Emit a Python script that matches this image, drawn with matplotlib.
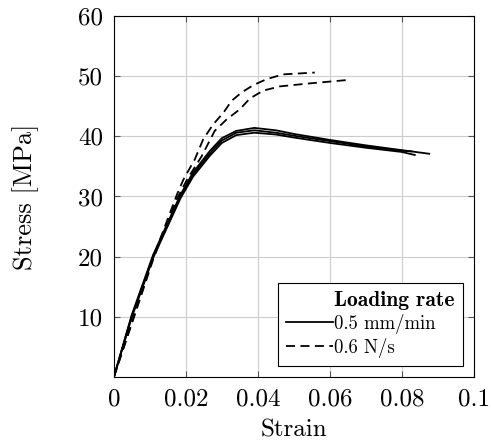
import matplotlib
matplotlib.use('Agg')
import matplotlib.pyplot as plt

plt.rcParams['font.family'] = 'serif'
plt.rcParams['font.serif'] = ['cmr10']
plt.rcParams['mathtext.fontset'] = 'cm'
plt.rcParams['axes.formatter.use_mathtext'] = True

# Solid curves (0.5 mm/min)
s1_strain = [0, 0.0049, 0.0109, 0.0185, 0.022, 0.0267, 0.03, 0.034, 0.039, 0.045, 0.05, 0.06, 0.07, 0.08, 0.0876]
s1_stress = [0, 10.2, 20.3, 30.3, 34.0, 37.6, 39.7, 40.9, 41.4, 41.0, 40.4, 39.4, 38.5, 37.7, 37.1]
s2_strain = [0, 0.0049, 0.0109, 0.0185, 0.022, 0.0267, 0.03, 0.034, 0.039, 0.045, 0.05, 0.06, 0.07, 0.08, 0.0827]
s2_stress = [0, 10.0, 20.0, 30.0, 33.7, 37.2, 39.3, 40.6, 41.0, 40.6, 40.1, 39.2, 38.3, 37.6, 37.5]
s3_strain = [0, 0.0049, 0.0109, 0.0185, 0.022, 0.0267, 0.03, 0.034, 0.039, 0.045, 0.05, 0.06, 0.07, 0.08, 0.0836]
s3_stress = [0, 9.8, 19.8, 29.7, 33.3, 36.8, 38.9, 40.2, 40.6, 40.3, 39.8, 38.9, 38.1, 37.4, 36.9]

# Dashed curves (0.6 N/s)
d1_strain = [0, 0.0055, 0.011, 0.0175, 0.0193, 0.0225, 0.0248, 0.0276, 0.0304, 0.0327, 0.0355, 0.0387, 0.0424, 0.047, 0.0558]
d1_stress = [0, 10.0, 20.0, 30.3, 32.8, 36.2, 39.5, 42.0, 43.9, 45.9, 47.3, 48.5, 49.5, 50.3, 50.6]
d2_strain = [0, 0.0055, 0.011, 0.0175, 0.0205, 0.0244, 0.028, 0.0313, 0.035, 0.0378, 0.0415, 0.0461, 0.0544, 0.0656]
d2_stress = [0, 9.8, 19.7, 29.6, 33.0, 36.7, 40.9, 42.8, 44.5, 46.3, 47.6, 48.3, 48.8, 49.4]

fig = plt.figure(figsize=(4.91, 4.45), dpi=100)
ax = fig.add_axes([0.232, 0.153, 0.733, 0.811])

ax.plot([], [], ' ', label='Loading rate')  # legend title row
ax.plot(s1_strain, s1_stress, 'k-', lw=1.3, label='0.5 mm/min')
ax.plot(s2_strain, s2_stress, 'k-', lw=1.3)
ax.plot(s3_strain, s3_stress, 'k-', lw=1.3)
ax.plot(d1_strain, d1_stress, 'k--', lw=1.3, dashes=(5, 3), label='0.6 N/s')
ax.plot(d2_strain, d2_stress, 'k--', lw=1.3, dashes=(5, 3))

ax.set_xlim(0, 0.1)
ax.set_ylim(0, 60)
ax.set_xticks([0, 0.02, 0.04, 0.06, 0.08, 0.1])
ax.set_xticklabels(['0', '0.02', '0.04', '0.06', '0.08', '0.1'])
ax.set_yticks([10, 20, 30, 40, 50, 60])
ax.set_yticklabels(['10', '20', '30', '40', '50', '60'])
ax.grid(True, color='#cccccc', lw=0.8)
ax.set_axisbelow(True)
ax.tick_params(direction='in', top=True, right=True, labelsize=18, length=4, color='#555555', pad=8)
for sp in ax.spines.values():
    sp.set_linewidth(0.8)

ax.set_xlabel('Strain', fontsize=18, labelpad=7)
ax.set_ylabel('Stress [MPa]', fontsize=19, labelpad=28)

leg = ax.legend(loc='lower right', fontsize=13.5, fancybox=False,
                edgecolor='black', framealpha=1, borderpad=0.45, handlelength=2.5,
                handletextpad=0.05, labelspacing=0.2, borderaxespad=0,
                bbox_to_anchor=(0.97, 0.03))
t0 = leg.get_texts()[0]
t0.set_fontfamily('cmb10')
t0.set_fontsize(15.5)
leg.get_frame().set_linewidth(0.8)

fig.savefig('out.png', dpi=100)
